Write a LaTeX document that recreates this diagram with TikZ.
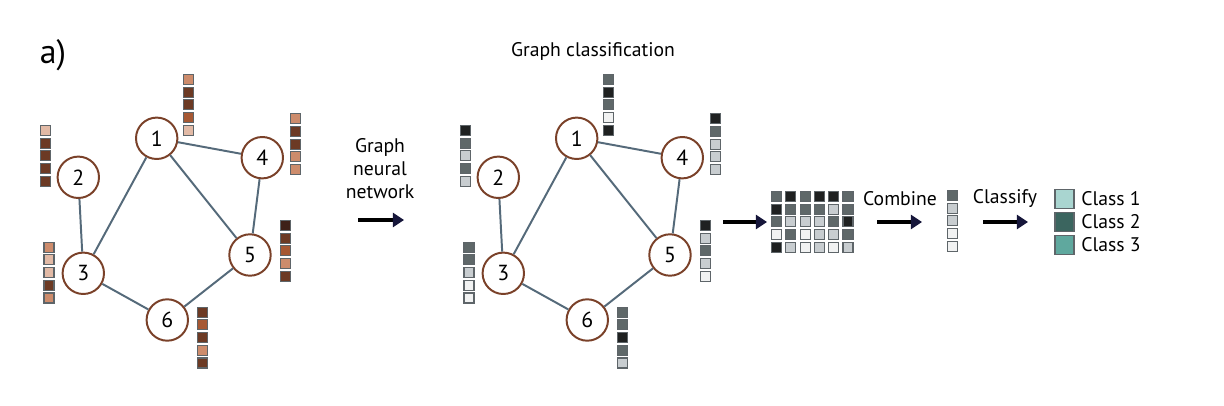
\documentclass[tikz,border=0pt]{standalone}
\usepackage{fontspec}
\setmainfont{PT Sans}
\usetikzlibrary{calc}
\usetikzlibrary{arrows.meta}
\definecolor{edgeblue}{HTML}{556A7A}
\definecolor{nodebrown}{HTML}{7A4129}
\definecolor{cellframe}{HTML}{5E6569}
\definecolor{arrownavy}{HTML}{16163A}
% brown feature values
\definecolor{brA}{HTML}{E2BAA6}
\definecolor{brB}{HTML}{CD8C6C}
\definecolor{brC}{HTML}{A65833}
\definecolor{brD}{HTML}{6C3A24}
\definecolor{brE}{HTML}{3E2118}
% gray feature values
\definecolor{gW}{HTML}{F1F2F2}
\definecolor{gL}{HTML}{C8CDD0}
\definecolor{gM}{HTML}{5F6869}
\definecolor{gK}{HTML}{1F2121}
% class colours
\definecolor{clsA}{HTML}{A9D5D0}
\definecolor{clsB}{HTML}{3B655F}
\definecolor{clsC}{HTML}{5FA89E}
\def\featvec(#1,#2)#3% Syntax: (x of centre,top) {list of colours}
{ \foreach \c [count=\i from 0] in {#3} { \draw[cell,fill=\c] (#1-5,#2+0.5+12.7*\i) rectangle ++(10,10); } }
\tikzset{
	gnode/.style={circle, draw=nodebrown, line width=1.4pt, fill=white, minimum size=1.035cm, inner sep=0pt, font=\fontsize{15.5}{15.5}\selectfont},
	gedge/.style={draw=edgeblue, line width=1.4pt},
	cell/.style={draw=cellframe, line width=0.8pt},
	bigarrow/.style={draw=black, line width=2.8pt, -{Triangle[color=arrownavy, length=8pt, width=10pt]}},
	lbl/.style={font=\fontsize{14}{16.3}\selectfont, align=center, inner sep=0pt},
}
\begin{document}
\begin{tikzpicture}[x=0.025cm, y=-0.025cm]
		\useasboundingbox (0,0) rectangle (1224,406);
		\node[font=\fontsize{24}{24}\selectfont, inner sep=0pt] (tag) at (53,55) {a)};
		\node[lbl] (title) at (593,51) {Graph classification};
		% input graph
		\node[gnode] (l1) at (156.7,138.3) {1};
		\node[gnode] (l2) at (78.3,177.3) {2};
		\node[gnode] (l3) at (83.3,273.3) {3};
		\node[gnode] (l4) at (262.3,157.7) {4};
		\node[gnode] (l5) at (250,255) {5};
		\node[gnode] (l6) at (167.3,320) {6};
		\draw[gedge] (l1) -- (l4) (l1) -- (l3) (l1) -- (l5) (l2) -- (l3) (l4) -- (l5) (l3) -- (l6) (l6) -- (l5);
		\featvec(188.3,74){brB,brD,brD,brC,brA}
		\featvec(45.7,125){brA,brD,brD,brD,brD}
		\featvec(49,241.7){brB,brA,brA,brD,brB}
		\featvec(295.7,113.3){brB,brD,brD,brB,brB}
		\featvec(285.3,220){brE,brD,brC,brB,brD}
		\featvec(202.3,306.7){brD,brC,brD,brB,brD}
		% gnn step
		\node[lbl] (gnn) at (380,168.5) {Graph\\neural\\network};
		\coordinate (gnn-s) at (358,220);
		\coordinate (gnn-e) at (404,220);
		\draw[bigarrow] (gnn-s) -- (gnn-e);
		% output graph
		\node[gnode] (r1) at (576.7,138.3) {1};
		\node[gnode] (r2) at (498.3,177.3) {2};
		\node[gnode] (r3) at (503.3,273.3) {3};
		\node[gnode] (r4) at (682.3,157.7) {4};
		\node[gnode] (r5) at (670,255) {5};
		\node[gnode] (r6) at (587.3,320) {6};
		\draw[gedge] (r1) -- (r4) (r1) -- (r3) (r1) -- (r5) (r2) -- (r3) (r4) -- (r5) (r3) -- (r6) (r6) -- (r5);
		\featvec(608.3,74){gM,gK,gM,gW,gK}
		\featvec(465.7,125){gK,gM,gL,gM,gL}
		\featvec(469,241.7){gM,gM,gL,gW,gW}
		\featvec(715.7,113.3){gK,gM,gL,gL,gL}
		\featvec(705.3,220){gK,gL,gM,gL,gW}
		\featvec(622.3,306.7){gM,gM,gK,gM,gL}
		% stacked node embeddings
		\coordinate (stack-s) at (723,222);
		\coordinate (stack-e) at (767,222);
		\draw[bigarrow] (stack-s) -- (stack-e);
		\featvec(776.5,191){gM,gK,gM,gW,gK}
		\featvec(790.8,191){gK,gM,gL,gM,gL}
		\featvec(805.1,191){gM,gM,gL,gW,gW}
		\featvec(819.4,191){gK,gM,gL,gL,gL}
		\featvec(833.7,191){gK,gL,gM,gL,gW}
		\featvec(848,191){gM,gM,gK,gM,gL}
		% combine
		\node[lbl] (comb) at (900,199) {Combine};
		\coordinate (comb-s) at (877,222);
		\coordinate (comb-e) at (922,222);
		\draw[bigarrow] (comb-s) -- (comb-e);
		\featvec(952.7,190){gM,gL,gL,gW,gW}
		% classify
		\node[lbl] (clf) at (1005,199) {Classify};
		\coordinate (clf-s) at (983,222);
		\coordinate (clf-e) at (1028,222);
		\draw[bigarrow] (clf-s) -- (clf-e);
		\draw[cell,fill=clsA] (1055,189.5) rectangle ++(19,19);
		\draw[cell,fill=clsB] (1055,212.5) rectangle ++(19,19);
		\draw[cell,fill=clsC] (1055,235.5) rectangle ++(19,19);
		\node[lbl, anchor=west] (c1) at (1081,199) {Class 1};
		\node[lbl, anchor=west] (c2) at (1081,222) {Class 2};
		\node[lbl, anchor=west] (c3) at (1081,245) {Class 3};
	\end{tikzpicture}
\end{document}
